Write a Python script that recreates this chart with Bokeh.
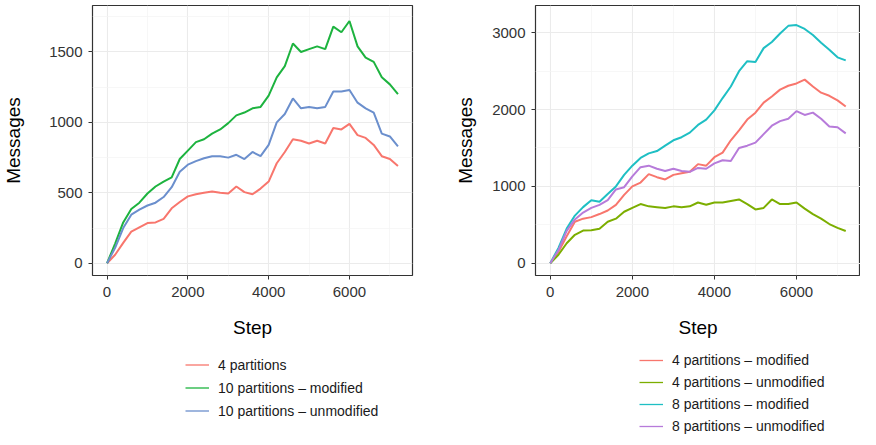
from bokeh.plotting import figure
from bokeh.models import Range1d, FixedTicker, Legend, LegendItem
from bokeh.layouts import row, column
from bokeh.embed import file_html
from bokeh.resources import INLINE

# ---------------- data ----------------
steps = list(range(0, 7201, 200))

# left panel
left_4_partitions = [0, 60, 145, 225, 255, 285, 290, 315, 390, 435, 475, 490, 500, 510, 500,
                     495, 545, 505, 490, 530, 580, 710, 790, 880, 870, 850, 870, 850, 960,
                     950, 990, 910, 890, 840, 760, 740, 690]
left_10_modified = [0, 140, 290, 385, 430, 495, 545, 580, 610, 740, 800, 860, 880, 920, 950,
                    995, 1050, 1070, 1100, 1110, 1190, 1320, 1400, 1560, 1500, 1520, 1540,
                    1520, 1680, 1640, 1720, 1540, 1460, 1430, 1320, 1270, 1200]
left_10_unmodified = [0, 110, 250, 345, 380, 410, 430, 470, 540, 650, 700, 725, 745, 760, 760,
                      750, 770, 740, 790, 760, 840, 1000, 1060, 1170, 1100, 1110, 1100, 1110,
                      1220, 1220, 1230, 1140, 1100, 1070, 920, 900, 830]

# right panel
right_4_modified = [0, 150, 350, 540, 580, 600, 640, 686, 760, 890, 1000, 1050, 1160, 1120,
                    1090, 1150, 1170, 1190, 1290, 1270, 1380, 1440, 1600, 1730, 1870, 1960,
                    2090, 2170, 2260, 2310, 2340, 2390, 2300, 2220, 2180, 2120, 2040]
right_4_unmodified = [0, 110, 260, 370, 425, 430, 450, 540, 580, 670, 720, 770, 740, 730, 720,
                      740, 730, 740, 790, 760, 790, 790, 810, 830, 770, 700, 720, 830, 770,
                      770, 790, 710, 640, 580, 510, 460, 420]
right_8_modified = [0, 200, 450, 620, 730, 820, 800, 900, 1000, 1150, 1270, 1370, 1430, 1460,
                    1530, 1600, 1640, 1700, 1800, 1870, 1990, 2150, 2300, 2500, 2630, 2620,
                    2800, 2880, 2990, 3090, 3100, 3050, 2970, 2870, 2780, 2680, 2640]
right_8_unmodified = [0, 170, 420, 570, 660, 720, 760, 820, 960, 990, 1130, 1250, 1270, 1230,
                      1200, 1230, 1200, 1190, 1240, 1230, 1300, 1340, 1330, 1500, 1530, 1570,
                      1680, 1790, 1850, 1880, 1980, 1930, 1960, 1880, 1780, 1770, 1690]

left_series = [("4 partitions", left_4_partitions, "#F8766D"),
               ("10 partitions \u2013 modified", left_10_modified, "#1DB33F"),
               ("10 partitions \u2013 unmodified", left_10_unmodified, "#6B8FCD")]
right_series = [("4 partitions \u2013 modified", right_4_modified, "#F8766D"),
                ("4 partitions \u2013 unmodified", right_4_unmodified, "#7CAE00"),
                ("8 partitions \u2013 modified", right_8_modified, "#1FBFC4"),
                ("8 partitions \u2013 unmodified", right_8_unmodified, "#B77BDA")]

left_yticks = [0, 500, 1000, 1500]
right_yticks = [0, 1000, 2000, 3000]
xticks = [0, 2000, 4000, 6000]

FONT = "Liberation Sans"
LINE_W = 2


def make_panel(series, yrange, yticks, yminor, border_left, border_right, label_standoff):
    p = figure(width=430, height=345, output_backend="svg", toolbar_location=None,
               x_range=Range1d(-360, 7560), y_range=Range1d(*yrange),
               min_border_left=border_left, min_border_right=border_right,
               min_border_top=5, min_border_bottom=70)
    p.background_fill_color = "white"
    p.border_fill_color = "white"
    p.outline_line_color = "#333333"
    p.outline_line_width = 1.2

    for label, vals, color in series:
        p.line(steps, vals, line_color=color, line_width=LINE_W)

    p.xaxis.ticker = FixedTicker(ticks=xticks, minor_ticks=[1000, 3000, 5000, 7000])
    p.yaxis.ticker = FixedTicker(ticks=yticks, minor_ticks=yminor)
    for ax in (p.xaxis[0], p.yaxis[0]):
        ax.axis_line_color = None
        ax.major_tick_line_color = "#333333"
        ax.major_tick_out = 4
        ax.major_tick_in = 0
        ax.minor_tick_line_color = None
        ax.major_label_text_font = FONT
        ax.major_label_text_font_size = "15px"
        ax.major_label_text_color = "#333333"
        ax.axis_label_text_font = FONT
        ax.axis_label_text_font_size = "19px"
        ax.axis_label_text_font_style = "normal"
        ax.axis_label_text_color = "black"
    p.xaxis.axis_label = "Step"
    p.yaxis.axis_label = "Messages"
    p.xaxis.major_label_standoff = 7
    p.yaxis.major_label_standoff = 6
    p.xaxis.axis_label_standoff = 17
    p.yaxis.axis_label_standoff = label_standoff

    p.xgrid.grid_line_color = "#EBEBEB"
    p.ygrid.grid_line_color = "#EBEBEB"
    p.xgrid.grid_line_width = 1.1
    p.ygrid.grid_line_width = 1.1
    p.xgrid.minor_grid_line_color = "#F4F4F4"
    p.ygrid.minor_grid_line_color = "#F4F4F4"
    p.xgrid.minor_grid_line_width = 0.7
    p.ygrid.minor_grid_line_width = 0.7
    return p


def make_legend(series, x, y, row_h):
    # the lines here lie outside this strip's ranges; they only feed the legend keys
    lf = figure(width=430, height=92, output_backend="svg", toolbar_location=None,
                x_range=Range1d(-20, -10), y_range=Range1d(-20, -10),
                x_axis_type=None, y_axis_type=None,
                min_border_left=0, min_border_right=0, min_border_top=0, min_border_bottom=0)
    lf.outline_line_color = None
    lf.background_fill_color = "white"
    lf.border_fill_color = "white"
    lf.grid.visible = False
    items = []
    for label, vals, color in series:
        r = lf.line(steps, vals, line_color=color, line_width=1.3)
        items.append(LegendItem(label=label, renderers=[r]))
    legend = Legend(items=items, location=(x, y), orientation="vertical")
    legend.padding = 0
    legend.margin = 0
    legend.spacing = 0
    legend.glyph_width = 24
    legend.glyph_height = row_h
    legend.label_height = row_h
    legend.label_standoff = 9
    legend.label_text_font = FONT
    legend.label_text_font_size = "14px"
    legend.label_text_color = "#1a1a1a"
    legend.border_line_color = None
    legend.background_fill_alpha = 0
    lf.add_layout(legend, "center")
    return lf


p1 = make_panel(left_series, (-87, 1830), left_yticks, [250, 750, 1250, 1750], 84, 18, 22)
p2 = make_panel(right_series, (-160, 3355), right_yticks, [500, 1500, 2500], 105, 0, 13)
l1 = make_legend(left_series, 93, 15, 23)
l2 = make_legend(right_series, 104, 0, 22)

layout = row(column(p1, l1), column(p2, l2))

open("out.html", "w").write(file_html(layout, INLINE))
